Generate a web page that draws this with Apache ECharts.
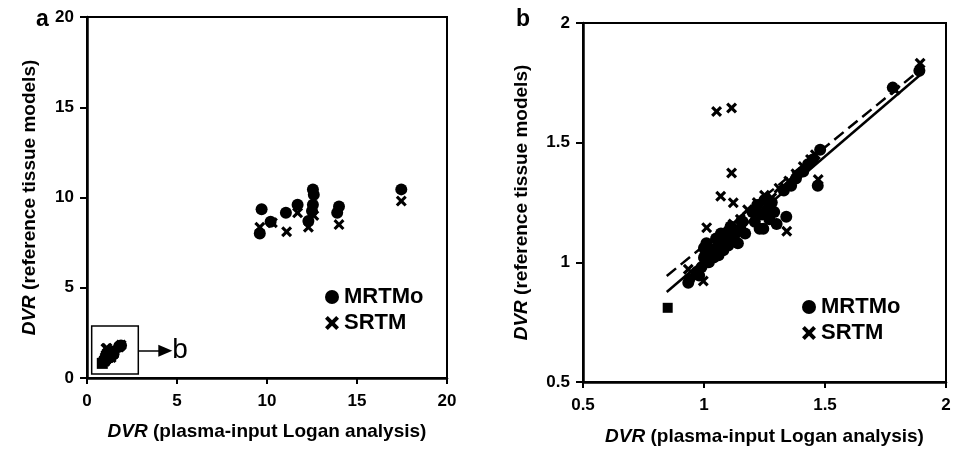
<!DOCTYPE html>
<html>
<head>
<meta charset="utf-8">
<script src="https://cdn.jsdelivr.net/npm/echarts@6/dist/echarts.min.js"></script>
<style>
html,body{margin:0;padding:0;background:#fff;}
#chart{width:968px;height:451px;}
</style>
</head>
<body>
<div id="chart"></div>
<script>
// panel b values (also the small cluster in the corner of panel a)
var mrtmX = [0.935,0.94,0.97,0.98,0.99,1.0,1.0,1.01,1.02,1.03,1.04,1.05,1.05,1.06,1.07,1.07,1.08,1.09,1.10,1.10,1.11,1.12,1.13,1.14,1.15,1.16,1.17,1.20,1.21,1.22,1.23,1.24,1.245,1.25,1.26,1.27,1.28,1.29,1.30,1.34,1.33,1.36,1.38,1.41,1.43,1.45,1.48,1.47,1.78,1.89];
var mrtmY = [0.915,0.93,0.96,0.945,0.98,1.02,1.06,1.08,1.0,1.04,1.02,1.06,1.10,1.03,1.08,1.12,1.05,1.10,1.07,1.13,1.15,1.09,1.12,1.08,1.14,1.17,1.12,1.21,1.17,1.24,1.14,1.20,1.14,1.26,1.22,1.18,1.25,1.21,1.16,1.19,1.30,1.32,1.35,1.38,1.41,1.43,1.47,1.32,1.73,1.80];
var srtmX = [0.935,0.997,1.0,1.011,1.03,1.052,1.06,1.069,1.09,1.114,1.114,1.121,1.12,1.15,1.18,1.22,1.25,1.28,1.31,1.342,1.35,1.38,1.41,1.44,1.46,1.472,1.79,1.893];
var srtmY = [0.971,0.922,1.0,1.145,1.05,1.63,1.09,1.276,1.12,1.645,1.373,1.249,1.16,1.18,1.22,1.25,1.28,1.27,1.31,1.13,1.34,1.37,1.40,1.43,1.45,1.346,1.72,1.832];
var sqX = [0.85];
var sqY = [0.81];

// regression lines in panel b (end points)
var fitX = [0.846,1.893];
var solidY = [0.876,1.783];
var dashY = [0.943,1.804];

// panel a high values
var hiMrtmX = [9.7,9.6,10.2,11.05,11.7,12.55,12.6,12.55,12.5,12.3,14.0,13.9,17.46];
var hiMrtmY = [9.35,8.0,8.66,9.16,9.6,10.45,10.15,9.6,9.25,8.7,9.5,9.15,10.45];
var hiSrtmX = [9.6,10.3,11.09,11.7,12.3,12.6,14.0,17.46];
var hiSrtmY = [8.35,8.6,8.1,9.15,8.35,9.0,8.5,9.8];

// zoom box + arrow in panel a
var boxX = [0.26,2.85];
var boxY = [0.22,2.88];
var arrowX = [2.85,4.35];
var arrowY = 1.51;

var ticksA = [0,20,5];
var ticksB = [0.5,2,0.5];

var FONT = '"Liberation Sans", Arial, sans-serif';
var CROSS = 'path://M2,0 L5,3 L8,0 L10,2 L7,5 L10,8 L8,10 L5,7 L2,10 L0,8 L3,5 L0,2 Z';

function pts(xs,ys){
	var out=[];
	for(var i=0;i<xs.length;i++){ out.push([xs[i],ys[i]]); }
	return out;
}

function xAxisOf(idx,t,gap){
	return {
		gridIndex:idx, type:'value', min:t[0], max:t[1], interval:t[2],
		name:'{i|DVR} (plasma-input Logan analysis)', nameLocation:'middle', nameGap:gap,
		nameTextStyle:{fontFamily:FONT,fontSize:19,fontWeight:'bold',color:'#000',
			rich:{i:{fontFamily:FONT,fontSize:19,fontWeight:'bold',fontStyle:'italic',color:'#000'}}},
		axisLine:{lineStyle:{color:'#000',width:2.5}},
		axisTick:{show:true,length:6,lineStyle:{color:'#000',width:2}},
		axisLabel:{fontFamily:FONT,fontSize:17,fontWeight:'bold',color:'#000',margin:15},
		splitLine:{show:false}
	};
}
function yAxisOf(idx,t,gap){
	return {
		gridIndex:idx, type:'value', min:t[0], max:t[1], interval:t[2],
		name:'{i|DVR} (reference tissue models)', nameLocation:'middle', nameGap:gap,
		nameTextStyle:{fontFamily:FONT,fontSize:19,fontWeight:'bold',color:'#000',
			rich:{i:{fontFamily:FONT,fontSize:19,fontWeight:'bold',fontStyle:'italic',color:'#000'}}},
		axisLine:{lineStyle:{color:'#000',width:2.5}},
		axisTick:{show:true,length:7,lineStyle:{color:'#000',width:2}},
		axisLabel:{fontFamily:FONT,fontSize:17,fontWeight:'bold',color:'#000',margin:13},
		splitLine:{show:false}
	};
}

var legendStyle = {fontFamily:FONT,fontSize:22,fontWeight:'bold',color:'#000'};
var dot = {color:'#000',opacity:1};

var option = {
	animation:false,
	backgroundColor:'#fff',
	grid:[
		{left:87,top:17,width:360,height:361,show:true,borderColor:'#000',borderWidth:2},
		{left:583,top:23,width:363,height:360,show:true,borderColor:'#000',borderWidth:2}
	],
	xAxis:[xAxisOf(0,ticksA,44),xAxisOf(1,ticksB,45)],
	yAxis:[yAxisOf(0,ticksA,48),yAxisOf(1,ticksB,52)],
	legend:[
		{left:320,top:281,orient:'vertical',itemGap:4,itemWidth:14,itemHeight:14,
			data:[{name:'MRTMo',icon:'circle'},{name:'SRTM',icon:CROSS}],textStyle:legendStyle},
		{left:797,top:291,orient:'vertical',itemGap:4,itemWidth:14,itemHeight:14,
			data:[{name:'MRTMo',icon:'circle'},{name:'SRTM',icon:CROSS}],textStyle:legendStyle}
	],
	graphic:[
		{type:'text',left:36,top:8,style:{text:'a',font:'bold 23px '+FONT,fill:'#000'}},
		{type:'text',left:516,top:8,style:{text:'b',font:'bold 23px '+FONT,fill:'#000'}}
	],
	series:[
		/*********** panel a **************/
		{name:'MRTMo',type:'scatter',xAxisIndex:0,yAxisIndex:0,symbol:'circle',symbolSize:12,
			itemStyle:dot,data:pts(hiMrtmX,hiMrtmY).concat(pts(mrtmX,mrtmY)),
			markArea:{silent:true,itemStyle:{color:'rgba(0,0,0,0)',borderColor:'#000',borderWidth:1.5},
				data:[[{coord:[boxX[0],boxY[0]]},{coord:[boxX[1],boxY[1]]}]]},
			markLine:{silent:true,symbol:['none','triangle'],symbolSize:[12,14],
				lineStyle:{color:'#000',width:1.5,type:'solid'},
				label:{show:true,position:'end',distance:7,formatter:'b',fontFamily:FONT,fontSize:28,color:'#000'},
				data:[[{coord:[arrowX[0],arrowY]},{coord:[arrowX[1],arrowY]}]]}
		},
		{name:'SRTM',type:'scatter',xAxisIndex:0,yAxisIndex:0,symbol:CROSS,symbolSize:11,
			itemStyle:dot,data:pts(hiSrtmX,hiSrtmY).concat(pts(srtmX,srtmY))},
		{name:'sq',type:'scatter',xAxisIndex:0,yAxisIndex:0,symbol:'rect',symbolSize:11,
			itemStyle:dot,data:pts(sqX,sqY)},
		/*********** panel b **************/
		{name:'MRTMo',type:'scatter',xAxisIndex:1,yAxisIndex:1,symbol:'circle',symbolSize:12,
			itemStyle:dot,data:pts(mrtmX,mrtmY)},
		{name:'SRTM',type:'scatter',xAxisIndex:1,yAxisIndex:1,symbol:CROSS,symbolSize:11,
			itemStyle:dot,data:pts(srtmX,srtmY)},
		{name:'sq',type:'scatter',xAxisIndex:1,yAxisIndex:1,symbol:'rect',symbolSize:10,
			itemStyle:dot,data:pts(sqX,sqY)},
		{name:'fit1',type:'line',xAxisIndex:1,yAxisIndex:1,symbol:'none',
			lineStyle:{color:'#000',width:2.5},data:pts(fitX,solidY)},
		{name:'fit2',type:'line',xAxisIndex:1,yAxisIndex:1,symbol:'none',
			lineStyle:{color:'#000',width:2.5,type:[12,6]},data:pts(fitX,dashY)}
	]
};

var myChart = echarts.init(document.getElementById('chart'));
myChart.setOption(option);
</script>
</body>
</html>
